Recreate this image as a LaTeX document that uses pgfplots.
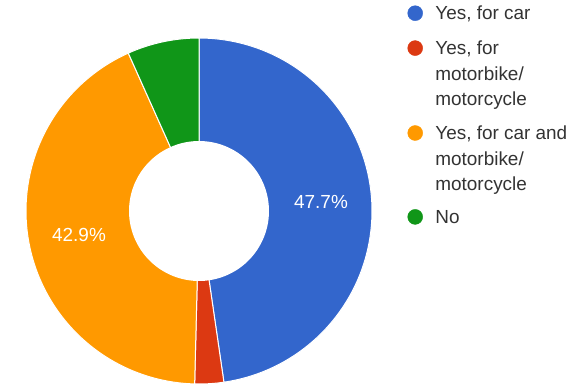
\documentclass[border=0pt]{standalone}
\usepackage{pgfplots}
\pgfplotsset{compat=1.18}
\usepackage{fontspec}
\setmainfont{Liberation Sans}
\definecolor{cblue}{HTML}{3366CC}
\definecolor{cred}{HTML}{DC3912}
\definecolor{corange}{HTML}{FF9900}
\definecolor{cgreen}{HTML}{109618}
\definecolor{legtext}{HTML}{333333}
\begin{document}
\begin{tikzpicture}
\begin{axis}[
  scale only axis, width=585bp, height=386bp,
  xmin=0, xmax=585, ymin=0, ymax=386,
  hide axis, clip=false,
  legend cell align=left,
  legend image code/.code={\fill[#1] (0pt,6.8bp) circle (7.5bp);},
  legend style={at={(axis cs:407.5,383.5)}, anchor=north west,
    draw=none, fill=none, inner sep=0pt, outer sep=0pt,
    font=\fontsize{19}{25}\selectfont, text=legtext,
    nodes={inner sep=0pt, outer sep=0pt, anchor=base west, text depth=0pt, text height=25bp},
    row sep=0pt, column sep=12.5bp},
]
% slices: blue 47.7, red 2.7, orange 42.9, green 6.7 (percent, clockwise from top)
\addplot[forget plot, fill=cblue, draw=white, line width=1bp, domain=0:47.7, samples=90]
  ({199+173*sin(3.6*x)},{175+173*cos(3.6*x)}) -- (axis cs:199,175) -- cycle;
\addplot[forget plot, fill=cred, draw=white, line width=1bp, domain=47.7:50.4, samples=10]
  ({199+173*sin(3.6*x)},{175+173*cos(3.6*x)}) -- (axis cs:199,175) -- cycle;
\addplot[forget plot, fill=corange, draw=white, line width=1bp, domain=50.4:93.3, samples=90]
  ({199+173*sin(3.6*x)},{175+173*cos(3.6*x)}) -- (axis cs:199,175) -- cycle;
\addplot[forget plot, fill=cgreen, draw=white, line width=1bp, domain=93.3:100, samples=20]
  ({199+173*sin(3.6*x)},{175+173*cos(3.6*x)}) -- (axis cs:199,175) -- cycle;
% hole
\addplot[forget plot, fill=white, draw=none, domain=0:360, samples=120]
  ({199+70*sin(x)},{175+70*cos(x)}) -- cycle;
\node[text=white, font=\fontsize{19}{22}\selectfont] at (axis cs:321,184) {47.7\%};
\node[text=white, font=\fontsize{19}{22}\selectfont] at (axis cs:79,151) {42.9\%};
\addlegendimage{cblue}
\addlegendentry[text height=17.5bp]{Yes, for car}
\addlegendimage{cred}
\addlegendentry[text height=34bp]{Yes, for}
\addlegendimage{empty legend}
\addlegendentry{motorbike/}
\addlegendimage{empty legend}
\addlegendentry{motorcycle}
\addlegendimage{corange}
\addlegendentry[text height=34bp]{Yes, for car and}
\addlegendimage{empty legend}
\addlegendentry{motorbike/}
\addlegendimage{empty legend}
\addlegendentry{motorcycle}
\addlegendimage{cgreen}
\addlegendentry[text height=33bp]{No}
\end{axis}
\pgfresetboundingbox
\path[use as bounding box] (current axis.south west) rectangle (current axis.north east);
\end{tikzpicture}
\end{document}
